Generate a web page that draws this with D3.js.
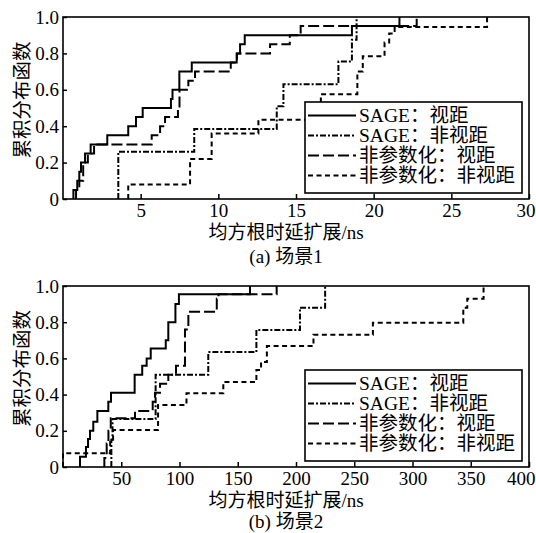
<!DOCTYPE html>
<html>
<head>
<meta charset="utf-8">
<script src="https://cdn.jsdelivr.net/npm/d3@7"></script>
<style>
    body { margin: 0; background: #fff; }
    svg { display: block; background: #fff; }
    text { font-family: "Liberation Serif", "Times New Roman", "Noto Sans CJK SC", serif; fill: #000; }
</style>
</head>
<body>
<svg id="chart" width="536" height="533"></svg>
<script>
//Legend names and line styles (solid, dash-dot, long dash, short dash)
const seriesNames = ["SAGE：视距", "SAGE：非视距", "非参数化：视距", "非参数化：非视距"];
const dashStyles = [null, "6,2,2,2", "11,4", "5,3.5"];

//Scene 1: step positions (ns) and CDF levels
const s1SageLosX = [0.67, 0.92, 1.05, 1.16, 1.42, 1.78, 2.85, 4.2, 4.7, 5.13, 6.95, 7.05, 7.49, 8.29, 11.18, 11.4, 11.7, 18.6, 21.66];
const s1SageLosP = [0.05, 0.10, 0.15, 0.20, 0.25, 0.30, 0.35, 0.40, 0.45, 0.50, 0.55, 0.60, 0.70, 0.75, 0.80, 0.85, 0.90, 0.95, 1.0];
const s1SageNlosX = [3.56, 8.45, 13.76, 14.19, 17.73, 18.6, 18.9];
const s1SageNlosP = [0.26, 0.385, 0.51, 0.63, 0.755, 0.875, 1.0];
const s1NpLosX = [0.84, 1.05, 1.3, 1.6, 2.0, 5.71, 6.25, 6.57, 7.4, 7.5, 8.07, 8.5, 10.8, 11.2, 13.33, 14.6, 15.3, 22.77];
const s1NpLosP = [0.05, 0.10, 0.20, 0.25, 0.30, 0.35, 0.40, 0.45, 0.50, 0.60, 0.65, 0.70, 0.75, 0.80, 0.85, 0.90, 0.95, 1.0];
const s1NpNlosX = [4.2, 8.18, 9.57, 12.58, 16.6, 18.95, 19.3, 20.7, 21.0, 21.35, 27.3];
const s1NpNlosP = [0.08, 0.22, 0.36, 0.435, 0.575, 0.70, 0.785, 0.86, 0.91, 0.945, 1.0];
const s1Ticks = [5, 10, 15, 20, 25, 30];

//Scene 2
const s2SageLosX = [14.6, 19.7, 21.5, 23.2, 26, 29.5, 38.9, 41.2, 61.5, 68, 71.8, 75.3, 88.2, 90.4, 96.5, 99.5, 160.5];
const s2SageLosP = [0.057, 0.11, 0.155, 0.2, 0.25, 0.31, 0.36, 0.41, 0.51, 0.56, 0.60, 0.655, 0.70, 0.80, 0.90, 0.955, 1.0];
const s2SageNlosX = [41.5, 42.5, 79.5, 124.7, 166, 203.4, 225];
const s2SageNlosP = [0.15, 0.265, 0.51, 0.635, 0.757, 0.88, 1.0];
const s2NpLosX = [35.5, 37.5, 39, 41, 61.8, 77, 79, 83.3, 90.4, 97, 104.7, 107.6, 132, 133.5, 183.4];
const s2NpLosP = [0.05, 0.13, 0.2, 0.27, 0.31, 0.36, 0.41, 0.46, 0.51, 0.56, 0.76, 0.858, 0.93, 0.955, 1.0];
const s2NpNlosX = [0, 40.5, 43, 81.6, 106, 137.6, 166, 170, 175, 215, 266, 343.6, 347, 361];
const s2NpNlosP = [0.076, 0.14, 0.204, 0.343, 0.407, 0.47, 0.536, 0.58, 0.668, 0.73, 0.797, 0.88, 0.93, 1.0];
const s2Ticks = [50, 100, 150, 200, 250, 300, 350, 400];

const yTicks = [0, 0.2, 0.4, 0.6, 0.8, 1.0];

class CdfPanel
{
    constructor(svg, top, bottom)
    {
        this.svg = svg;
        this.left = 63;
        this.top = top;
        this.width = 529 - this.left;
        this.height = bottom - top;
    }

    plot(xMax, xTicks, series, titleY, caption, captionY)
    {
        let xScale = d3.scaleLinear().domain([0, xMax]).range([0, this.width]);
        let yScale = d3.scaleLinear().domain([0, 1]).range([this.height, 0]);

        let g = this.svg.append("g")
            .attr("transform", "translate(" + this.left + "," + this.top + ")");

        //x axis, ticks pointing into the plot
        g.append("g")
            .attr("transform", "translate(0," + this.height + ")")
            .call(d3.axisBottom(xScale).tickValues(xTicks).tickSizeInner(-5).tickSizeOuter(0).tickPadding(5))
            .attr("font-size", 19)
            .attr("font-family", null)
            .call(a => a.select(".domain").remove())
            .call(a => a.selectAll("line").attr("stroke-width", 1.5))
            //last label sits on the right edge, keep it inside the page
            .call(a => a.selectAll(".tick:last-of-type text").attr("text-anchor", "end").attr("x", 6));

        //y axis
        g.append("g")
            .call(d3.axisLeft(yScale).tickValues(yTicks)
                .tickFormat(d => d === 0 ? "0" : d3.format(".1f")(d))
                .tickSizeInner(-4).tickSizeOuter(0).tickPadding(4))
            .attr("font-size", 19)
            .attr("font-family", null)
            .call(a => a.select(".domain").remove())
            .call(a => a.selectAll("line").attr("stroke-width", 1.5));

        //step CDF lines
        let line = d3.line()
            .x(d => xScale(d.x))
            .y(d => yScale(d.p))
            .curve(d3.curveStepAfter);

        series.forEach((s, i) => {
            let pts = [{x: s.xs[0], p: 0}].concat(s.xs.map((x, j) => ({x: x, p: s.ps[j]})));
            g.append("path")
                .datum(pts)
                .attr("d", line)
                .attr("fill", "none")
                .attr("stroke", "#000")
                .attr("stroke-width", 2)
                .attr("stroke-dasharray", dashStyles[i]);
        });

        //frame
        g.append("rect")
            .attr("width", this.width)
            .attr("height", this.height)
            .attr("fill", "none")
            .attr("stroke", "#000")
            .attr("stroke-width", 1.6);

        //legend
        let lg = g.append("g")
            .attr("transform", "translate(" + (this.width - 224) + "," + (this.height - 97) + ")");
        lg.append("rect")
            .attr("width", 217)
            .attr("height", 91)
            .attr("fill", "#fff")
            .attr("stroke", "#000")
            .attr("stroke-width", 1.6);
        seriesNames.forEach((name, i) => {
            let yy = 13.5 + i * 20;
            lg.append("line")
                .attr("x1", 3).attr("x2", 51)
                .attr("y1", yy).attr("y2", yy)
                .attr("stroke", "#000")
                .attr("stroke-width", 2)
                .attr("stroke-dasharray", dashStyles[i]);
            lg.append("text")
                .attr("x", 54)
                .attr("y", yy)
                .attr("dy", "0.35em")
                .attr("font-size", 19.5)
                .text(name);
        });

        //y label
        this.svg.append("text")
            .attr("transform", "translate(22," + (this.top + this.height / 2 - 8) + ") rotate(-90)")
            .attr("text-anchor", "middle")
            .attr("dominant-baseline", "central")
            .attr("font-size", 19.5)
            .text("累积分布函数");

        //x label and caption
        this.svg.append("text")
            .attr("x", 286)
            .attr("y", titleY)
            .attr("text-anchor", "middle")
            .attr("dominant-baseline", "central")
            .attr("font-size", 19)
            .text("均方根时延扩展/ns");

        this.svg.append("text")
            .attr("x", 286)
            .attr("y", captionY)
            .attr("text-anchor", "middle")
            .attr("dominant-baseline", "central")
            .attr("font-size", 19)
            .text(caption);
    }
}

const svg = d3.select("#chart");

new CdfPanel(svg, 17, 199).plot(30, s1Ticks, [
    {xs: s1SageLosX, ps: s1SageLosP},
    {xs: s1SageNlosX, ps: s1SageNlosP},
    {xs: s1NpLosX, ps: s1NpLosP},
    {xs: s1NpNlosX, ps: s1NpNlosP}
], 232, "(a) 场景1", 256);

new CdfPanel(svg, 286, 467).plot(400, s2Ticks, [
    {xs: s2SageLosX, ps: s2SageLosP},
    {xs: s2SageNlosX, ps: s2SageNlosP},
    {xs: s2NpLosX, ps: s2NpLosP},
    {xs: s2NpNlosX, ps: s2NpNlosP}
], 500, "(b) 场景2", 521);
</script>
</body>
</html>
